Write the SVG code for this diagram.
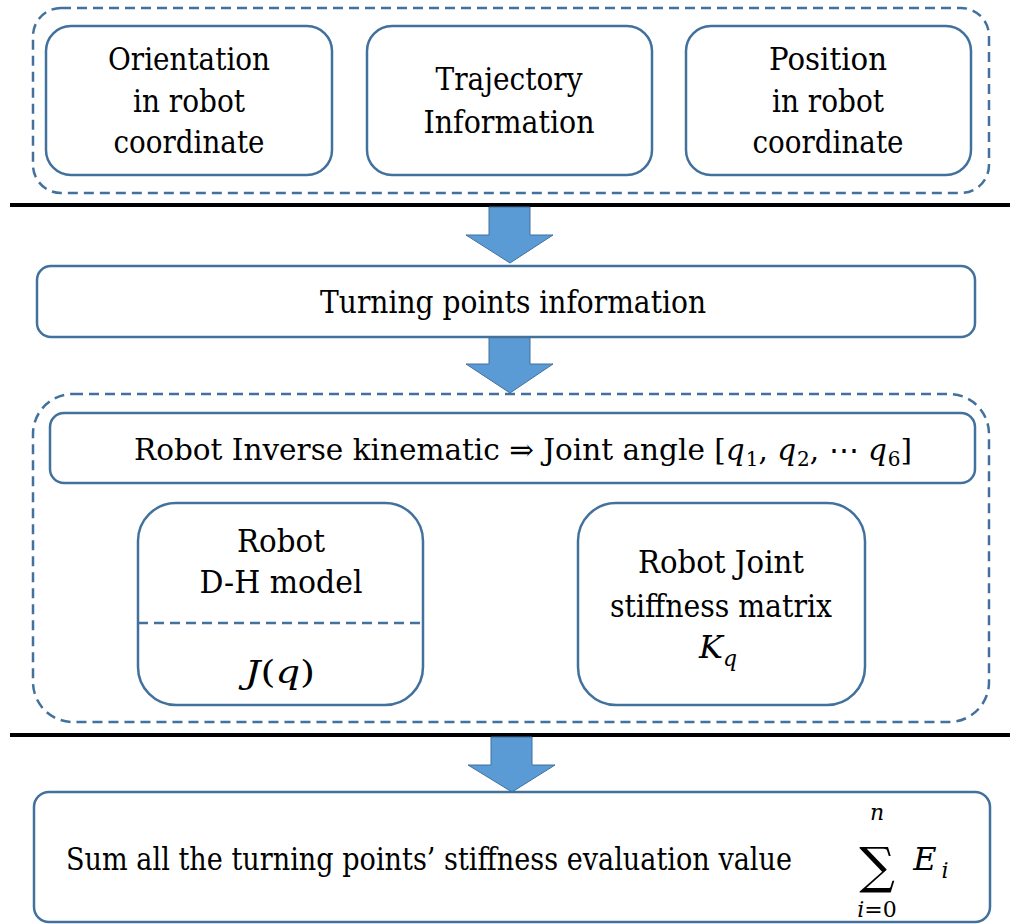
<svg xmlns="http://www.w3.org/2000/svg" width="1010" height="924" viewBox="0 0 1010 924">
<style>
.box{fill:#fff;stroke:#41719C;stroke-width:2.5}
.dash{fill:none;stroke:#41719C;stroke-width:2.5;stroke-dasharray:10 6}
.arrow{fill:#5B9BD5;stroke:#41719C;stroke-width:1}
.sep{stroke:#000;stroke-width:4}
.t{font-family:'DejaVu Serif',serif;font-size:32px;fill:#000;text-anchor:middle}
.ik{font-size:29.5px}
.it{font-style:italic}
.sub{font-size:20px}
.small{font-size:22px}
.big{font-size:50px}
</style>
<rect width="1010" height="924" fill="#fff"/>
<g id="input-group">
<rect class="dash" x="33" y="8" width="956" height="185" rx="28"/>
</g>
<g id="orientation">
<rect class="box" x="46" y="26" width="286" height="149" rx="25"/>
<text class="t" x="189" y="70" textLength="162" lengthAdjust="spacingAndGlyphs">Orientation</text>
<text class="t" x="189" y="112" textLength="112" lengthAdjust="spacingAndGlyphs">in robot</text>
<text class="t" x="189" y="153" textLength="151" lengthAdjust="spacingAndGlyphs">coordinate</text>
</g>
<g id="trajectory">
<rect class="box" x="367" y="26" width="285" height="149" rx="25"/>
<text class="t" x="509" y="90" textLength="147" lengthAdjust="spacingAndGlyphs">Trajectory</text>
<text class="t" x="509" y="133" textLength="171" lengthAdjust="spacingAndGlyphs">Information</text>
</g>
<g id="position">
<rect class="box" x="686" y="26" width="285" height="149" rx="25"/>
<text class="t" x="828" y="70" textLength="118" lengthAdjust="spacingAndGlyphs">Position</text>
<text class="t" x="828" y="112" textLength="112" lengthAdjust="spacingAndGlyphs">in robot</text>
<text class="t" x="828" y="153" textLength="151" lengthAdjust="spacingAndGlyphs">coordinate</text>
</g>
<g id="separators">
<line class="sep" x1="10" y1="205" x2="1010" y2="205"/>
<line class="sep" x1="10" y1="735" x2="1010" y2="735"/>
</g>
<g id="connectors">
<polygon class="arrow" points="489,207 530,207 530,235 553,235 510,263 466,235 489,235"/>
<polygon class="arrow" points="489,337 530,337 530,364 553,364 510,393 466,364 489,364"/>
<polygon class="arrow" points="491,737 532,737 532,765 555,765 512,792 468,765 491,765"/>
</g>
<g id="turning-points">
<rect class="box" x="37" y="266" width="938" height="71" rx="14"/>
<text class="t" x="513" y="313" textLength="386" lengthAdjust="spacingAndGlyphs">Turning points information</text>
</g>
<g id="model-group">
<rect class="dash" x="33" y="394" width="956" height="328" rx="40"/>
</g>
<g id="inverse-kinematic">
<rect class="box" x="50" y="413" width="925" height="70" rx="14"/>
<text class="t ik" x="523" y="460">Robot Inverse kinematic ⇒ Joint angle [<tspan class="it">q</tspan><tspan class="sub" dx="1" dy="6">1</tspan><tspan dy="-6">, </tspan><tspan class="it">q</tspan><tspan class="sub" dx="1" dy="6">2</tspan><tspan dy="-6">, ⋯ </tspan><tspan class="it">q</tspan><tspan class="sub" dx="1" dy="6">6</tspan><tspan dy="-6">]</tspan></text>
</g>
<g id="dh-model">
<rect class="box" x="138" y="503" width="285" height="202" rx="38"/>
<line class="dash" x1="138" y1="623" x2="423" y2="623"/>
<text class="t" x="281" y="552" textLength="88" lengthAdjust="spacingAndGlyphs">Robot</text>
<text class="t" x="281" y="593" textLength="163" lengthAdjust="spacingAndGlyphs">D-H model</text>
<text class="t" x="280" y="683" textLength="70" lengthAdjust="spacingAndGlyphs"><tspan class="it">J</tspan>(<tspan class="it">q</tspan>)</text>
</g>
<g id="stiffness-matrix">
<rect class="box" x="578" y="503" width="287" height="202" rx="38"/>
<text class="t" x="721" y="573" textLength="166" lengthAdjust="spacingAndGlyphs">Robot Joint</text>
<text class="t" x="721" y="617" textLength="222" lengthAdjust="spacingAndGlyphs">stiffness matrix</text>
<text class="t" x="718" y="658"><tspan class="it">K</tspan><tspan class="it small" dy="8">q</tspan></text>
</g>
<g id="sum-evaluation">
<rect class="box" x="34" y="792" width="956" height="130" rx="15"/>
<text class="t" x="429" y="870" textLength="726" lengthAdjust="spacingAndGlyphs">Sum all the turning points’ stiffness evaluation value</text>
<text class="t big" x="877" y="883">∑</text>
<text class="t small it" x="877" y="820">n</text>
<text class="t small" x="877" y="917"><tspan class="it">i</tspan>=0</text>
<text class="t it" x="925" y="870">E</text>
<text class="t it small" x="945" y="878">i</text>
</g>
</svg>
